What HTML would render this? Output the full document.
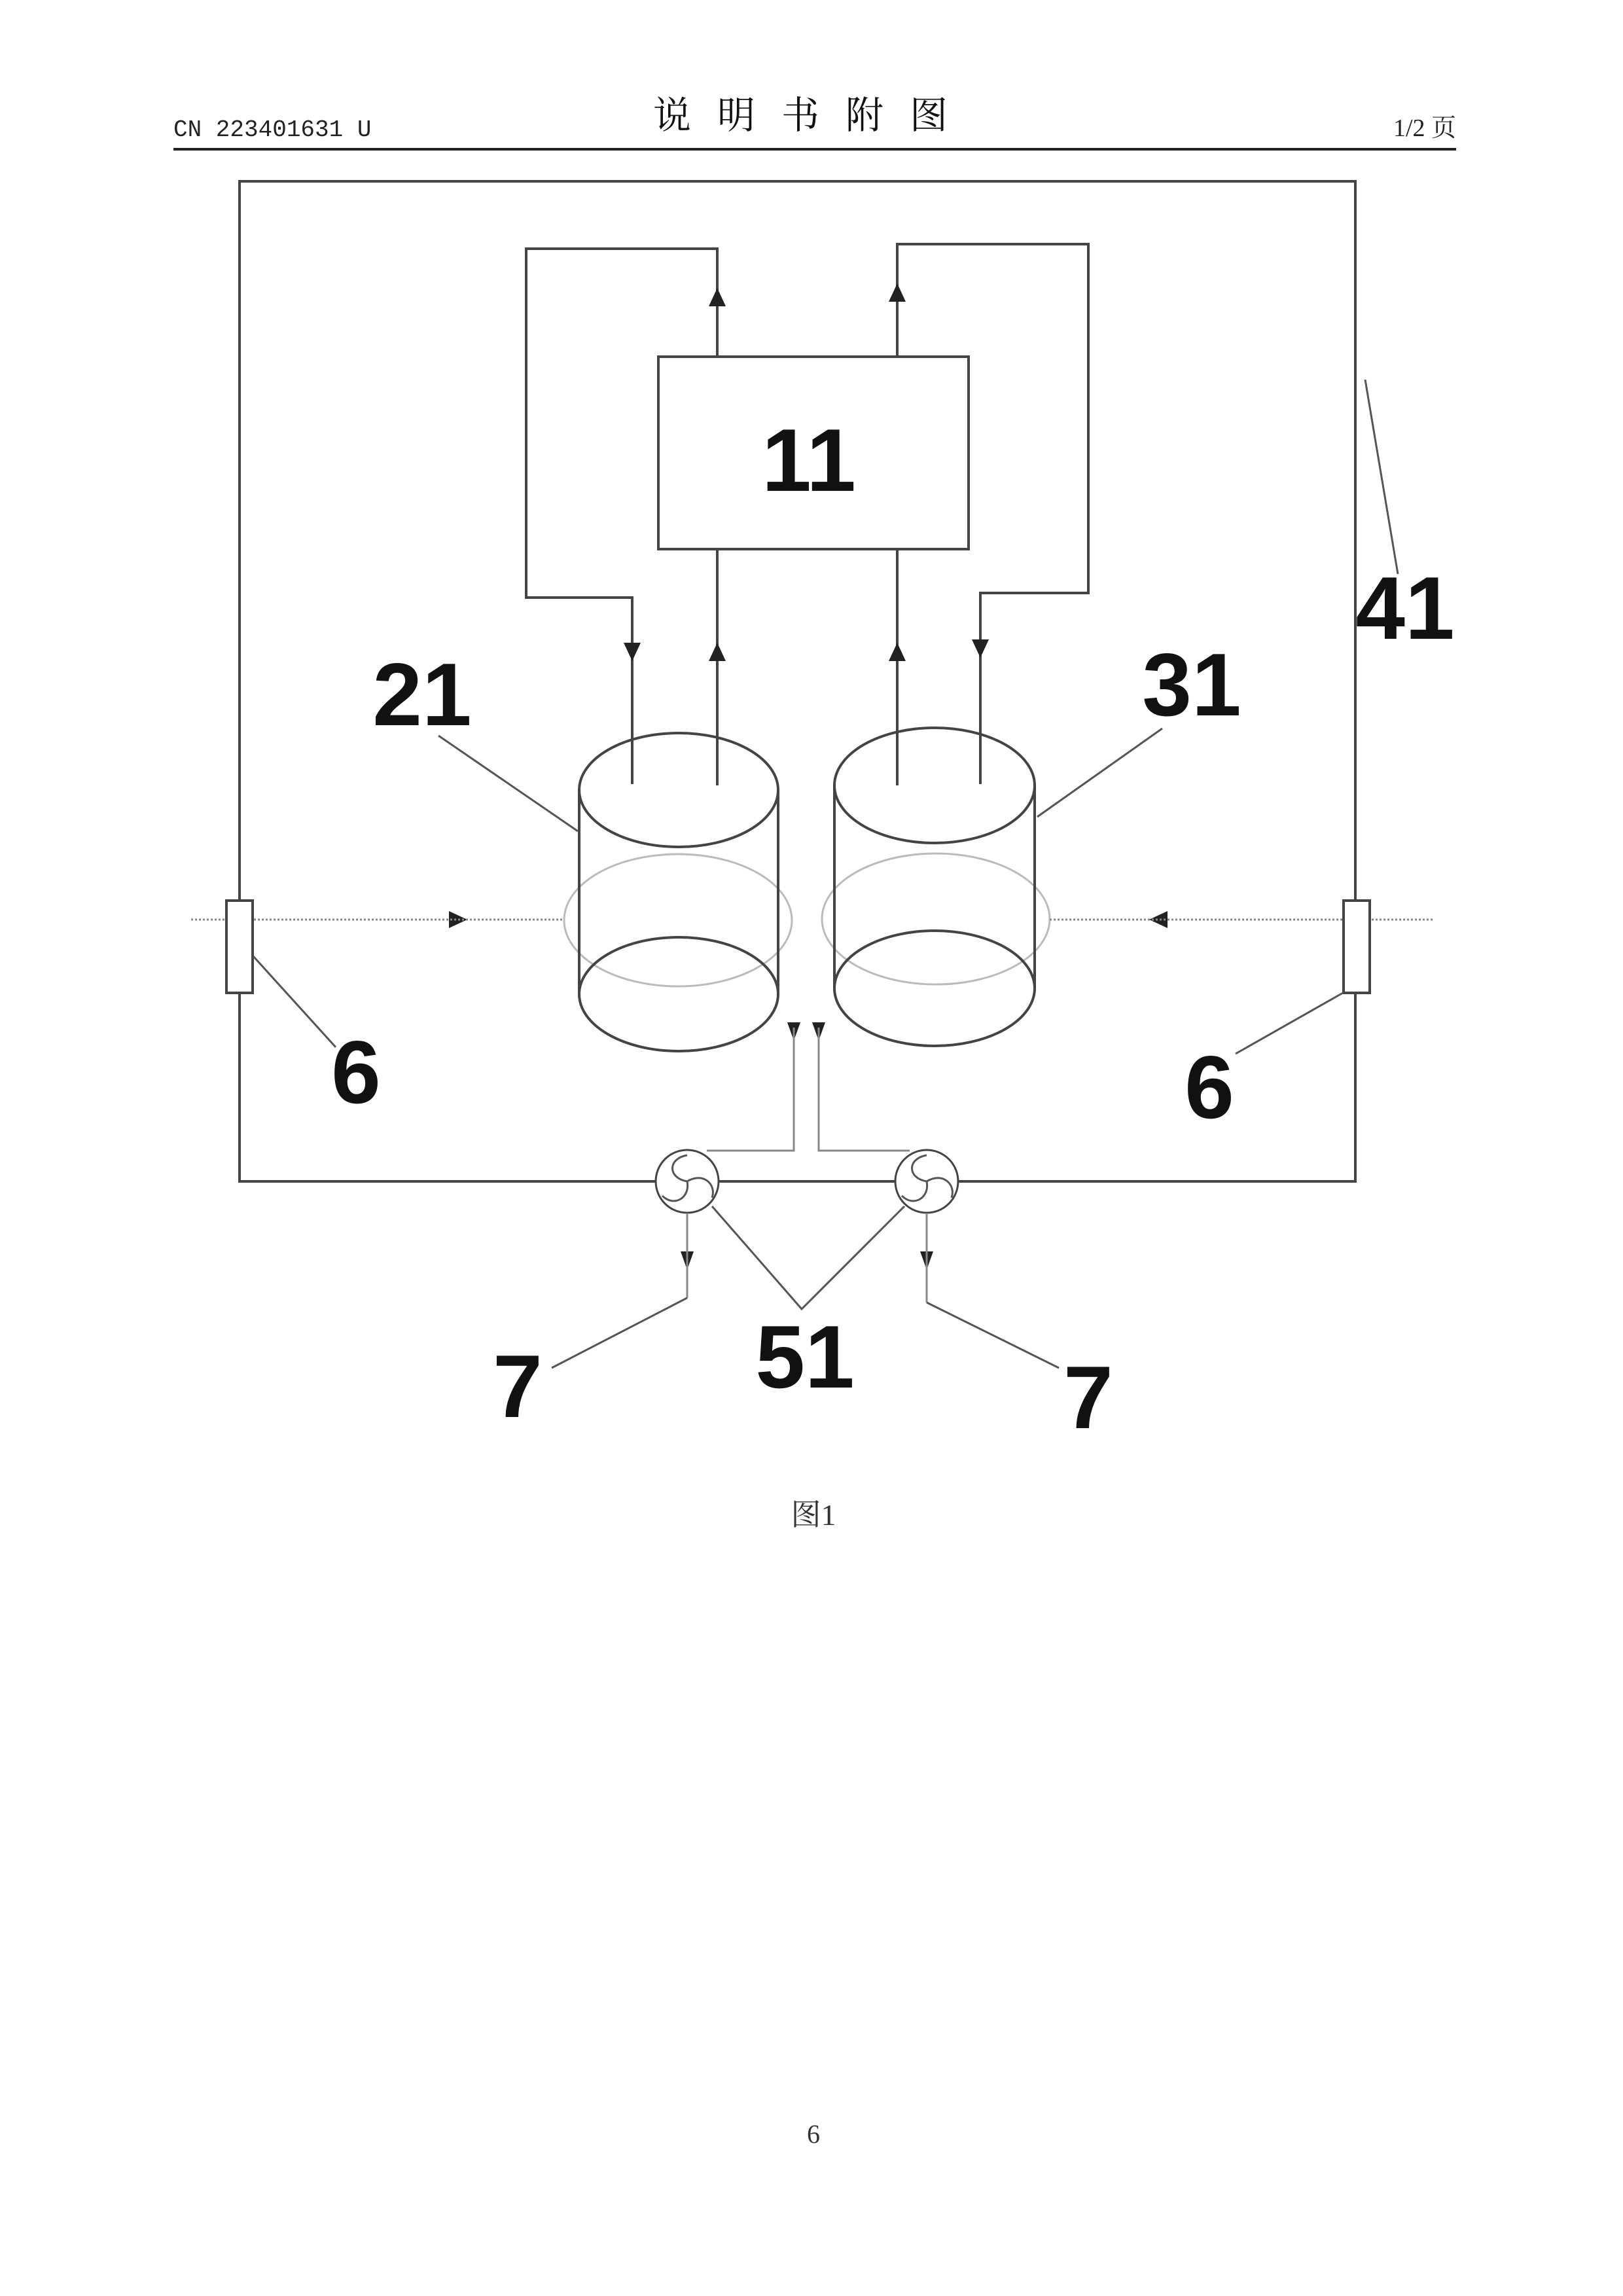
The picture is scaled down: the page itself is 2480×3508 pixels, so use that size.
<!DOCTYPE html>
<html><head><meta charset="utf-8"><style>
html,body{margin:0;padding:0;background:#fff}
svg{display:block}
.lb{font-family:"Liberation Sans Narrow","Liberation Sans",sans-serif;font-weight:bold;font-size:136px;fill:#111}
</style></head><body>
<svg width="2480" height="3508" viewBox="0 0 2480 3508" xmlns="http://www.w3.org/2000/svg">
<text x="265" y="208" font-family="Liberation Mono,monospace" font-size="36" fill="#222">CN 223401631 U</text>
<text x="1243" y="196" text-anchor="middle" font-family="'Liberation Serif','Noto Serif CJK SC',serif" font-size="58" fill="#111" letter-spacing="40">说明书附图</text>
<text x="2225" y="208" text-anchor="end" font-family="'Liberation Serif','Noto Serif CJK SC',serif" font-size="38" fill="#222">1/2 页</text>
<line x1="265" y1="228" x2="2225" y2="228" stroke="#222" stroke-width="4"/>

<g fill="none" stroke="#444" stroke-width="4">
<rect x="366" y="277" width="1705" height="1528"/>
<rect x="1006" y="545" width="474" height="294"/>
<polyline points="1096,545 1096,380 804,380 804,913 966,913 966,1198"/>
<polyline points="1371,545 1371,373 1663,373 1663,906 1498,906 1498,1198"/>
<line x1="1096" y1="1200" x2="1096" y2="839"/>
<line x1="1371" y1="1200" x2="1371" y2="839"/>
</g>
<g fill="#222">
<path d="M1096,440 l-13,28 h26z"/>
<path d="M1371,433 l-13,28 h26z"/>
<path d="M1096,982 l-13,28 h26z"/>
<path d="M1371,982 l-13,28 h26z"/>
<path d="M966,1010 l-13,-28 h26z"/>
<path d="M1498,1005 l-13,-28 h26z"/>
<path d="M714,1405 l-28,-13 v26z"/>
<path d="M1756,1405 l28,-13 v26z"/>
<path d="M1213,1590 l-10,-28 h20z"/>
<path d="M1251,1590 l-10,-28 h20z"/>
<path d="M1050,1940 l-10,-28 h20z"/>
<path d="M1416,1940 l-10,-28 h20z"/>
</g>
<g fill="none" stroke="#bbb" stroke-width="3">
<ellipse cx="1036" cy="1406" rx="174" ry="101"/>
<ellipse cx="1430" cy="1404" rx="174" ry="100"/>
</g>
<line x1="292" y1="1405" x2="862" y2="1405" stroke="#888" stroke-width="3" stroke-dasharray="3,3"/>
<line x1="1604" y1="1405" x2="2192" y2="1405" stroke="#888" stroke-width="3" stroke-dasharray="3,3"/>
<g fill="none" stroke="#444" stroke-width="4">
<ellipse cx="1037" cy="1207" rx="152" ry="87"/>
<line x1="885" y1="1207" x2="885" y2="1519"/>
<line x1="1189" y1="1207" x2="1189" y2="1519"/>
<ellipse cx="1037" cy="1519" rx="152" ry="87"/>
<ellipse cx="1428" cy="1200" rx="153" ry="88"/>
<line x1="1275" y1="1200" x2="1275" y2="1510"/>
<line x1="1581" y1="1200" x2="1581" y2="1510"/>
<ellipse cx="1428" cy="1510" rx="153" ry="88"/>
<rect x="346" y="1376" width="40" height="141" fill="#fff"/>
<rect x="2053" y="1376" width="40" height="141" fill="#fff"/>
</g>
<g fill="none" stroke="#888" stroke-width="3">
<polyline points="1213,1570 1213,1758 1080,1758"/>
<polyline points="1251,1570 1251,1758 1390,1758"/>
<polyline points="1050,1855 1050,1983"/>
<polyline points="1416,1855 1416,1990"/>
</g>
<g fill="#fff" stroke="#444" stroke-width="3">
<circle cx="1050" cy="1805" r="48"/>
<circle cx="1416" cy="1805" r="48"/>
</g>
<g fill="none" stroke="#555" stroke-width="3">
<path d="M1050,1805 c-30,-5 -30,-35 0,-40 M1050,1805 c25,-15 45,5 38,25 M1050,1805 c5,25 -20,40 -38,22"/>
<path d="M1416,1805 c-30,-5 -30,-35 0,-40 M1416,1805 c25,-15 45,5 38,25 M1416,1805 c5,25 -20,40 -38,22"/>
</g>
<g stroke="#555" stroke-width="3" fill="none">
<line x1="670" y1="1124" x2="883" y2="1270"/>
<line x1="1776" y1="1113" x2="1585" y2="1248"/>
<line x1="2086" y1="580" x2="2136" y2="877"/>
<line x1="387" y1="1461" x2="513" y2="1600"/>
<line x1="2052" y1="1517" x2="1888" y2="1610"/>
<line x1="1050" y1="1983" x2="843" y2="2090"/>
<line x1="1416" y1="1990" x2="1618" y2="2090"/>
<polyline points="1088,1843 1225,2000 1382,1843"/>
</g>
<text class="lb" x="1236" y="750" text-anchor="middle">11</text>
<text class="lb" x="645" y="1108" text-anchor="middle">21</text>
<text class="lb" x="1821" y="1093" text-anchor="middle">31</text>
<text class="lb" x="2147" y="976" text-anchor="middle">41</text>
<text class="lb" x="544" y="1685" text-anchor="middle">6</text>
<text class="lb" x="1848" y="1708" text-anchor="middle">6</text>
<text class="lb" x="791" y="2165" text-anchor="middle">7</text>
<text class="lb" x="1663" y="2182" text-anchor="middle">7</text>
<text class="lb" x="1230" y="2120" text-anchor="middle">51</text>
<text x="1243" y="2330" text-anchor="middle" font-family="'Liberation Serif','Noto Serif CJK SC',serif" font-size="46" fill="#333">图1</text>
<text x="1243" y="3274" text-anchor="middle" font-family="Liberation Serif,serif" font-size="40" fill="#333">6</text>
</svg>
</body></html>
